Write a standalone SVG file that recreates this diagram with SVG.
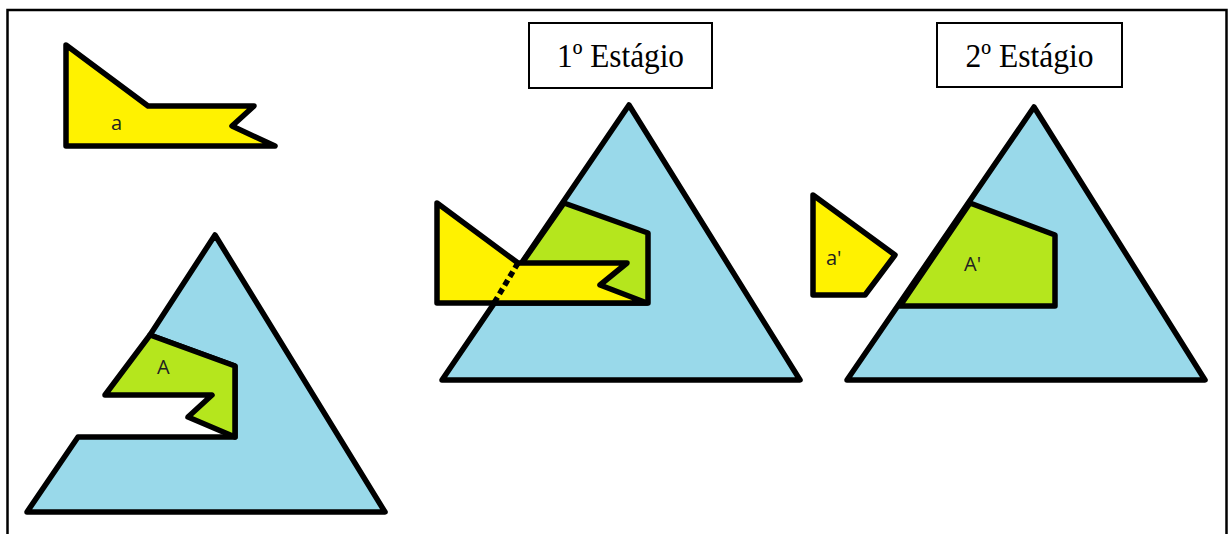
<svg xmlns="http://www.w3.org/2000/svg" width="1229" height="534" viewBox="0 0 1229 534">
<style>
.s{stroke:#000;stroke-width:5.5;stroke-linejoin:round}
.blue{fill:#99d9ea}
.yel{fill:#fff200}
.grn{fill:#b5e61d}
.lbl{font-family:"Open Sans","DejaVu Sans",sans-serif;font-size:20px;fill:#222}
.ttl{font-family:"Liberation Serif","Times New Roman",serif;font-size:33px;fill:#000}
.box{fill:#fff;stroke:#000;stroke-width:2}
</style>
<rect x="0" y="0" width="1229" height="534" fill="#fff"/>
<path d="M7.5 545 V10 H1226.5 V545" fill="none" stroke="#000" stroke-width="2.5"/>

<g id="shape-a">
<polygon class="s yel" points="66,45 148,106 254,106 232,126 275,146 66,146"/>
<text class="lbl" x="111" y="130">a</text>
</g>

<g id="original-triangle">
<polygon class="s blue" points="215,235 385,512 27,512 78,437 235,437 235,366 150,335"/>
<polygon class="s grn" points="150,335 235,366 235,437 188,417 212,395 105,395"/>
<text class="lbl" x="157" y="374">A</text>
</g>

<g id="stage1-label">
<rect class="box" x="529" y="23" width="183" height="65"/>
<text class="ttl" x="620.5" y="67" text-anchor="middle" textLength="127" lengthAdjust="spacingAndGlyphs">1º Estágio</text>
</g>

<g id="stage1">
<polygon class="s blue" points="629,105 800,380 442,380"/>
<polygon class="s grn" points="564,203 648,233 648,303 494,303"/>
<polygon class="s yel" points="437,203 518,263 627,263 600,285 647,303 437,303"/>
<line x1="518" y1="263" x2="494" y2="303" stroke="#000" stroke-width="5.5" stroke-dasharray="6 4"/>
</g>

<g id="stage2-label">
<rect class="box" x="937" y="23" width="185" height="64"/>
<text class="ttl" x="1029.5" y="67" text-anchor="middle" textLength="128" lengthAdjust="spacingAndGlyphs">2º Estágio</text>
</g>

<g id="shape-a-prime">
<polygon class="s yel" points="813,195 895,255 865,295 813,295"/>
<text class="lbl" x="826" y="265">a'</text>
</g>

<g id="stage2">
<polygon class="s blue" points="1034,107 1205,380 847,380"/>
<polygon class="s grn" points="970,203 1055,235 1055,306 900,306"/>
<text class="lbl" x="964" y="271">A'</text>
</g>
</svg>
